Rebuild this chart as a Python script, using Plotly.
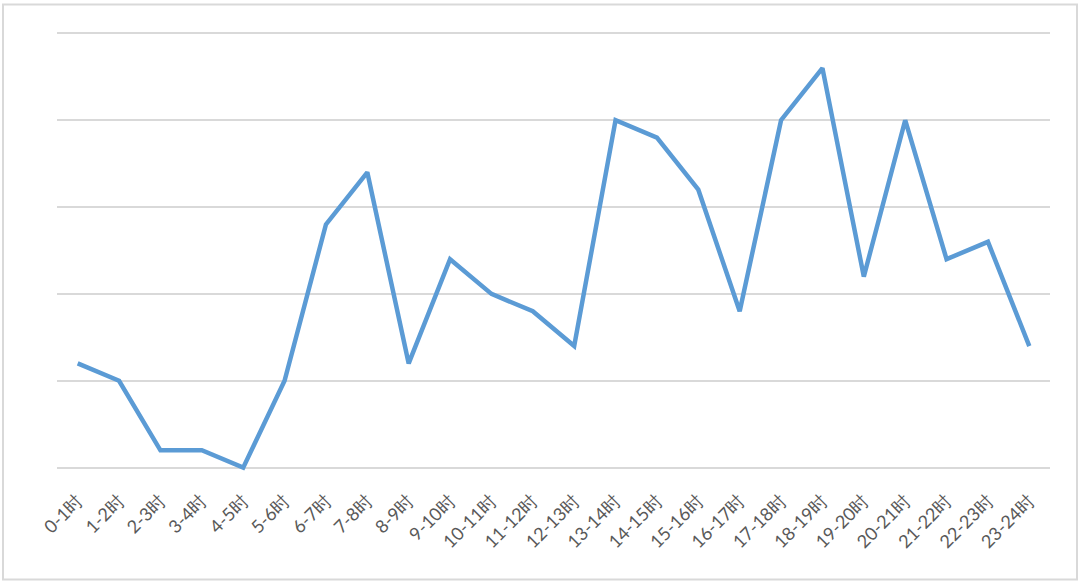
import plotly.graph_objects as go

categories = [f"{h}-{h+1}时" for h in range(24)]
values = [12, 10, 2, 2, 0, 10, 28, 34, 12, 24, 20, 18, 14, 40, 38, 32, 18, 40, 46, 22, 40, 24, 26, 14]
y_ticks = [0, 10, 20, 30, 40, 50]

fig = go.Figure()
fig.add_trace(go.Scatter(
    x=categories, y=values, mode="lines",
    line=dict(color="#5B9BD5", width=4.5),
    hoverinfo="x+y",
))

# plot area: x 57..1050, y 33 (value 50) .. 468 (value 0); padded half unit
fig.update_layout(
    width=1080, height=584,
    margin=dict(l=57, r=30, t=28.65, b=111.65, autoexpand=False),
    paper_bgcolor="white", plot_bgcolor="white",
    showlegend=False,
    font=dict(family="Lato, Open Sans, sans-serif", size=18, color="#595959"),
    xaxis=dict(
        type="category", tickangle=-45, showgrid=False, zeroline=False,
        range=[-0.5, 23.5], automargin=False, ticklabelstandoff=14,
        showline=False, ticks="", tickfont=dict(size=18, color="#595959"),
    ),
    yaxis=dict(
        range=[-0.5, 50.5], tickvals=y_ticks, showticklabels=False,
        showgrid=True, gridcolor="#D9D9D9", gridwidth=1.5, automargin=False,
        zeroline=False, showline=False, ticks="",
    ),
    shapes=[dict(
        type="rect", xref="paper", yref="paper",
        x0=-0.0544, x1=1.0272, y0=-0.2425, y1=1.0555,
        line=dict(color="#D9D9D9", width=2), fillcolor="rgba(0,0,0,0)",
        layer="below",
    )],
)
fig.write_html("out.html", config={"displayModeBar": False},
               post_script="document.body.style.margin='0';")
